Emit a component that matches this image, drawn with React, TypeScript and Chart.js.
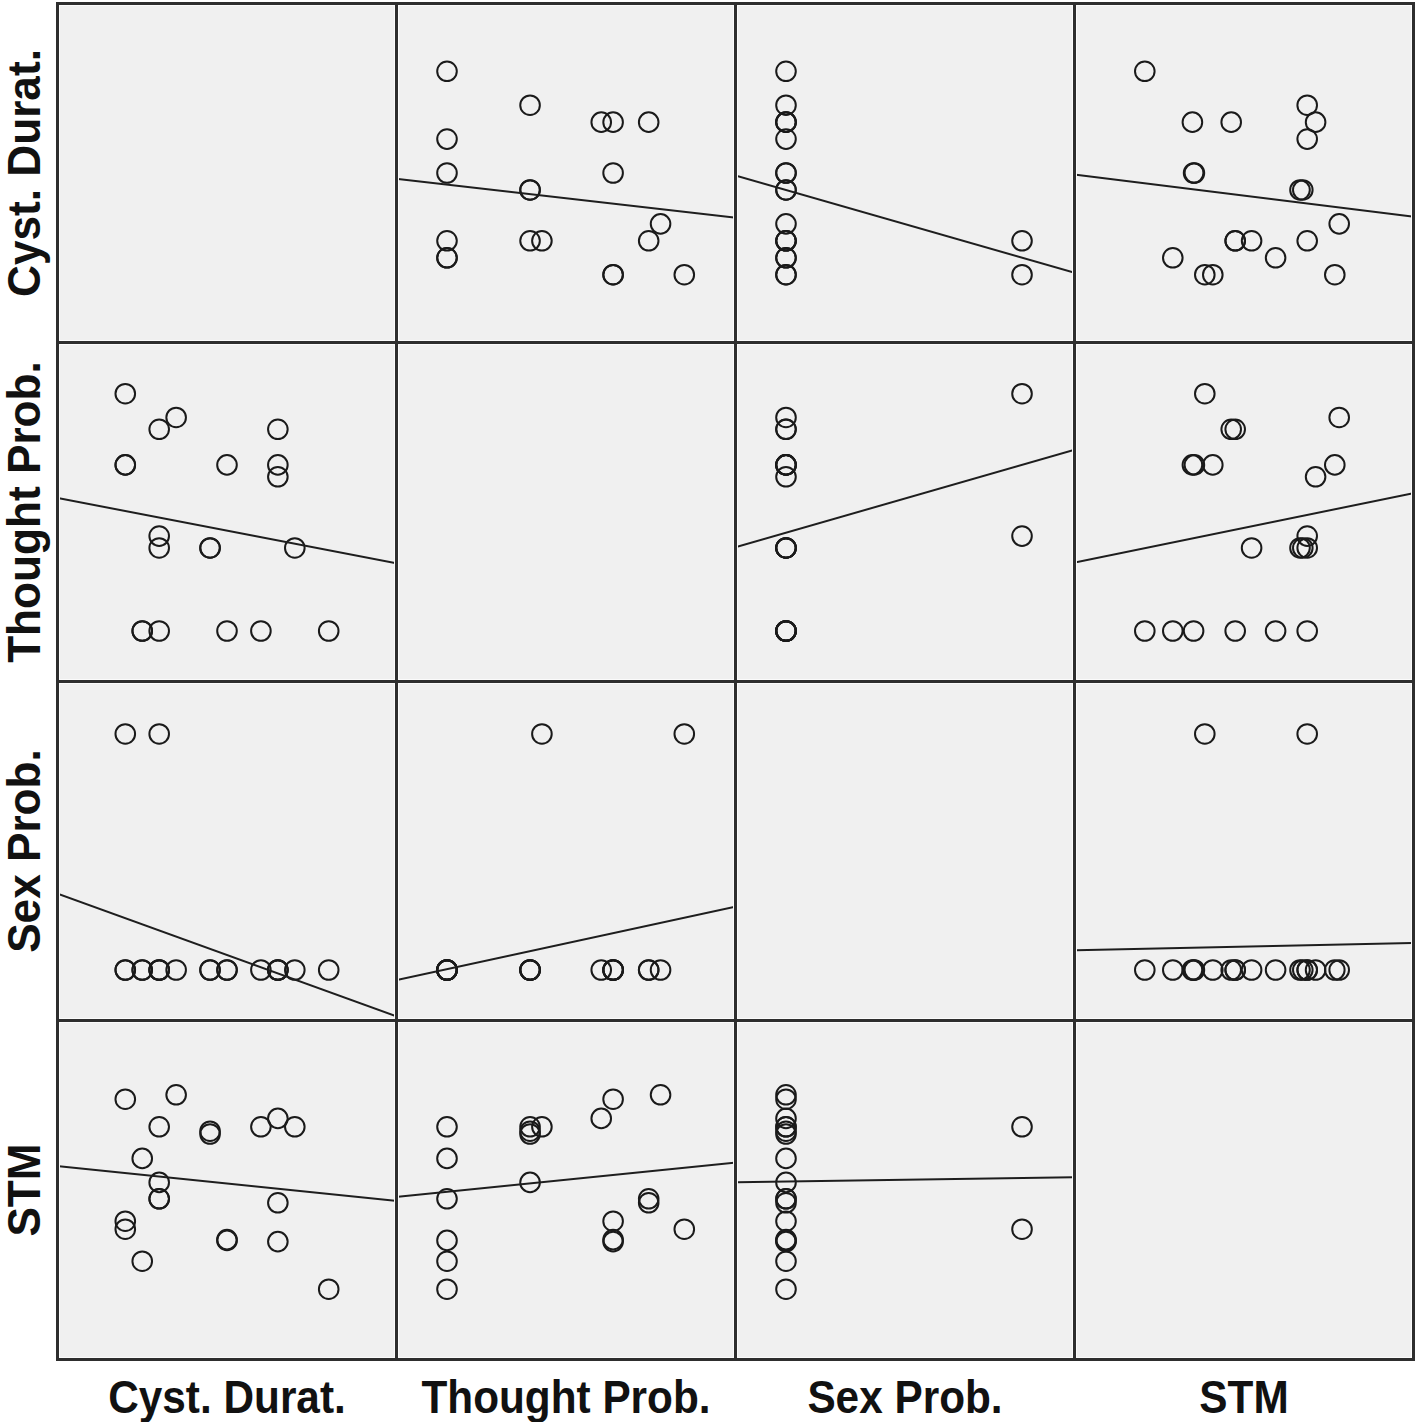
import React, { useEffect, useRef } from 'react';
import { Chart, registerables } from 'chart.js';

Chart.register(...registerables);

// ---- data (20 cases) ----
const variableNames = ['Cyst. Durat.', 'Thought Prob.', 'Sex Prob.', 'STM'];
const cystDurat = [12, 10, 9, 9, 9, 8, 6, 6, 5, 5, 3, 2, 2, 2, 2, 1, 1, 0, 0, 0];
const thoughtProb = [0, 7, 13, 14, 17, 0, 0, 14, 7, 7, 18, 0, 7, 8, 17, 0, 0, 14, 14, 20];
const sexProb = [0, 0, 0, 0, 0, 0, 0, 0, 0, 0, 0, 0, 0, 1, 0, 0, 0, 0, 0, 1];
const stm = [0, 40.6, 42.7, 11.9, 21.6, 40.6, 12.2, 12.4, 39.5, 38.8, 48.6, 22.6, 26.7, 40.6, 22.6, 32.7, 7, 47.5, 17, 15];

// axis extents for each variable (shared by its row and its column)
const axisMin = [-3.91, -4.13, -0.2076, -17.2];
const axisMax = [15.91, 24.19, 1.216, 66.8];

const series = [cystDurat, thoughtProb, sexProb, stm];

// ---- layout ----
const CELL = 336;
const GAP = 3;
const GRID_LEFT = 56;
const GRID_TOP = 2;
const LABEL_FONT = "bold 46px 'Liberation Sans', Arial, sans-serif";

function ols(xs: number[], ys: number[]) {
  const n = xs.length;
  const mx = xs.reduce((a, b) => a + b, 0) / n;
  const my = ys.reduce((a, b) => a + b, 0) / n;
  let sxy = 0;
  let sxx = 0;
  for (let i = 0; i < n; i++) {
    sxy += (xs[i] - mx) * (ys[i] - my);
    sxx += (xs[i] - mx) * (xs[i] - mx);
  }
  const b = sxx === 0 ? 0 : sxy / sxx;
  return { a: my - b * mx, b };
}

function Cell({ row, col }: { row: number; col: number }) {
  const ref = useRef<HTMLCanvasElement | null>(null);
  useEffect(() => {
    if (!ref.current || row === col) return;
    const xs = series[col];
    const ys = series[row];
    const pts = xs.map((x, i) => ({ x, y: ys[i] }));
    const { a, b } = ols(xs, ys);
    const x0 = axisMin[col];
    const x1 = axisMax[col];
    const chart = new Chart(ref.current, {
      type: 'scatter',
      data: {
        datasets: [
          {
            type: 'line',
            data: [
              { x: x0, y: a + b * x0 },
              { x: x1, y: a + b * x1 },
            ],
            borderColor: '#1e1e1e',
            borderWidth: 2,
            pointRadius: 0,
            fill: false,
            order: 0,
          } as any,
          {
            data: pts,
            pointRadius: 9.8,
            pointBorderWidth: 2,
            borderColor: '#1a1a1a',
            backgroundColor: 'rgba(0,0,0,0)',
            pointBackgroundColor: 'rgba(0,0,0,0)',
            pointBorderColor: '#1a1a1a',
            order: 1,
          },
        ],
      },
      options: {
        animation: false,
        responsive: false,
        devicePixelRatio: 1,
        events: [],
        layout: { padding: 0, autoPadding: false },
        plugins: { legend: { display: false }, tooltip: { enabled: false } },
        scales: {
          x: { type: 'linear', display: false, min: axisMin[col], max: axisMax[col] },
          y: { type: 'linear', display: false, min: axisMin[row], max: axisMax[row] },
        },
      },
    });
    return () => chart.destroy();
  }, [row, col]);

  return (
    <div
      style={{
        position: 'absolute',
        left: GRID_LEFT + GAP + col * (CELL + GAP),
        top: GRID_TOP + GAP + row * (CELL + GAP),
        width: CELL,
        height: CELL,
        background: '#f0f0f0',
      }}
    >
      {row !== col && <canvas ref={ref} width={CELL} height={CELL} style={{ display: 'block' }} />}
      <div
        style={{
          position: 'absolute',
          left: 0,
          top: 0,
          width: CELL - 2,
          height: CELL - 2,
          border: '1px solid #fbfbfb',
          pointerEvents: 'none',
        }}
      />
    </div>
  );
}

export default function App() {
  const cells = [];
  for (let r = 0; r < 4; r++) for (let c = 0; c < 4; c++) cells.push(<Cell key={`${r}-${c}`} row={r} col={c} />);
  const gridSize = 4 * CELL + 5 * GAP;
  return (
    <div style={{ position: 'absolute', left: 0, top: 0, width: 1416, height: 1422, background: '#ffffff', overflow: 'hidden' }}>
      <div
        style={{
          position: 'absolute',
          left: GRID_LEFT,
          top: GRID_TOP,
          width: gridSize,
          height: gridSize,
          background: '#2e2e2e',
        }}
      />
      {cells}
      {variableNames.map((name, c) => (
        <div
          key={`col-${c}`}
          style={{
            position: 'absolute',
            left: GRID_LEFT + GAP + c * (CELL + GAP) + CELL / 2 - 200,
            top: 1370,
            width: 400,
            height: 46,
            lineHeight: '46px',
            textAlign: 'center',
            font: LABEL_FONT,
            color: '#111',
            whiteSpace: 'nowrap',
            transform: 'scaleX(0.92)',
          }}
        >
          {name}
        </div>
      ))}
      {variableNames.map((name, r) => (
        <div
          key={`row-${r}`}
          style={{
            position: 'absolute',
            left: 20 - 200,
            top: GRID_TOP + GAP + r * (CELL + GAP) + CELL / 2 - 23,
            width: 400,
            height: 46,
            lineHeight: '46px',
            textAlign: 'center',
            font: LABEL_FONT,
            color: '#111',
            whiteSpace: 'nowrap',
            transform: 'rotate(-90deg) scaleX(0.96)',
          }}
        >
          {name}
        </div>
      ))}
    </div>
  );
}
